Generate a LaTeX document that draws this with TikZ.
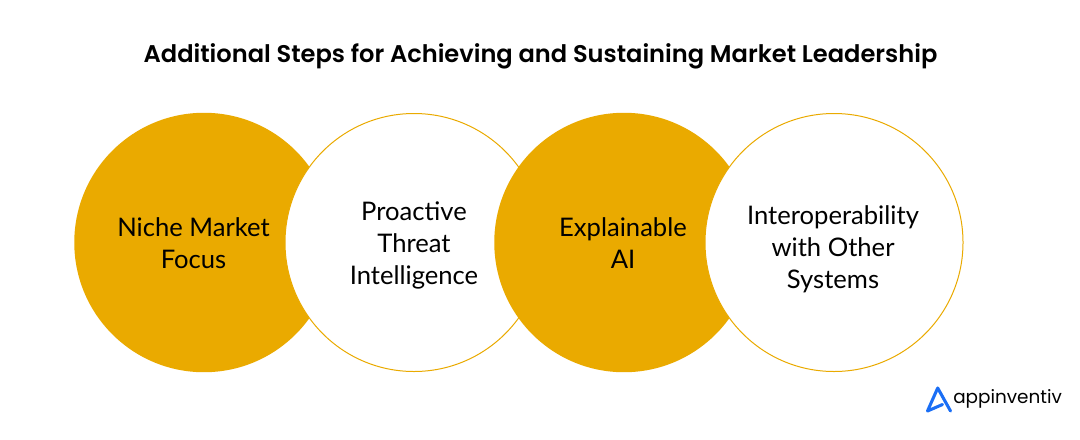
\documentclass[tikz,border=0pt]{standalone}
\usepackage{fontspec}
\setmainfont{Lato}
\newfontfamily\titlefont{Poppins SemiBold}
\newfontfamily\logofont{Poppins}
\definecolor{goldfill}{HTML}{EAAA00}
\definecolor{logoblue}{HTML}{1A6EF5}
\tikzset{
	goldcircle/.style={circle,fill=goldfill,minimum size=194.6pt,inner sep=0pt},
	whitecircle/.style={circle,fill=white,draw=goldfill,line width=0.75pt,minimum size=193.5pt,inner sep=0pt},
	circletext/.style={align=center,inner sep=0pt,font=\fontsize{19.2}{24}\selectfont}
}
\begin{document}
\begin{tikzpicture}[line cap=round,line join=round,x=0.75pt,y=-0.75pt]
	\useasboundingbox (0,0) rectangle (1080,439);
	\node[font=\titlefont\fontsize{18.1}{22}\selectfont] (title) at (540.5,56) {Additional Steps for Achieving and Sustaining Market Leadership};
	\node[goldcircle] (niche) at (204,242.5) {};
	\node[whitecircle] (threat) at (414,242.5) {};
	\node[goldcircle] (explain) at (624,242.5) {};
	\node[whitecircle] (interop) at (834,242.5) {};
	\node[circletext] (nichetext) at (193.5,243) {Niche Market\\Focus};
	\node[circletext] (threattext) at (414,245.5) {Proactive\\Threat\\Intelligence};
	\node[circletext] (explaintext) at (623,243) {Explainable\\AI};
	\node[circletext] (interoptext) at (833,249) {Interoperability\\with Other\\Systems};
	% logo
	\draw[logoblue,line width=2.3pt] (942.5,404.5) -- (927.5,411) -- (937.7,388) -- (950.5,411);
	\node[font=\logofont\fontsize{13.8}{16}\selectfont,anchor=west,inner sep=0pt] (logo) at (953,398.5) {appinventiv};
\end{tikzpicture}
\end{document}
